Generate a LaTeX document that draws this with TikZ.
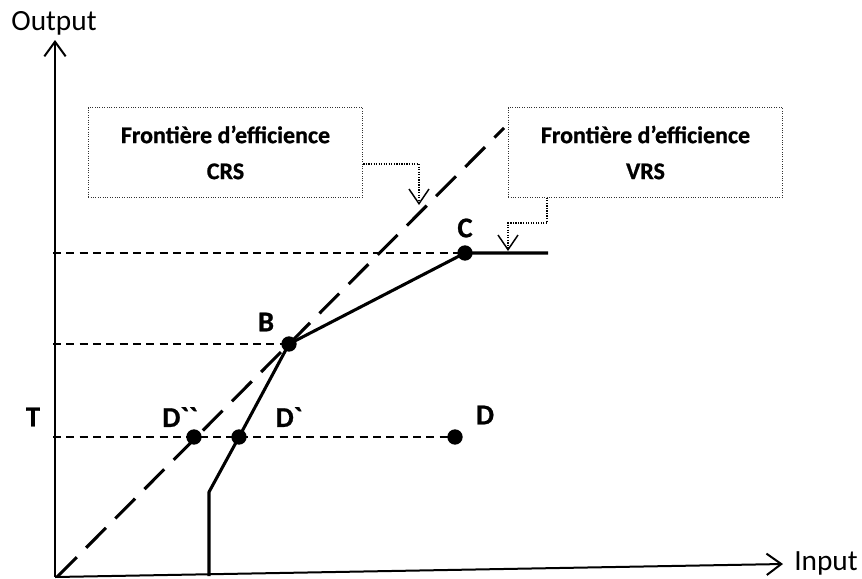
\documentclass[tikz,border=0pt]{standalone}
\usepackage{fontspec}
\setmainfont{Carlito}[BoldFeatures={FakeBold=0.8}]
\usetikzlibrary{arrows.meta}
\begin{document}
\begin{tikzpicture}[x=0.75pt,y=-0.75pt,
  axis/.style={line width=1.5pt,-{Straight Barb[length=11pt,width=16pt,line width=1.5pt]}},
  axislbl/.style={font=\fontsize{22}{26}\selectfont,inner sep=0pt},
  frontier/.style={line width=2.3pt,line join=round},
  crsline/.style={line width=2.3pt,dash pattern=on 21pt off 10pt},
  guide/.style={line width=1.1pt,dash pattern=on 6pt off 4pt},
  dot/.style={circle,fill=black,inner sep=0pt,minimum size=11.5pt},
  lbl/.style={font=\bfseries\fontsize{21.5}{25}\selectfont,inner sep=0pt},
  box/.style={draw=black!80,densely dotted,line width=0.8pt,minimum width=206pt,minimum height=67pt,inner sep=0pt,align=center,font=\bfseries\fontsize{18}{27}\selectfont},
  conn/.style={densely dotted,line width=0.9pt,-{Straight Barb[length=11pt,width=15pt,line width=1.1pt]}}
]
\useasboundingbox (0,0) rectangle (862,578);
% axes
\coordinate (O) at (55,577);
\coordinate (ytop) at (55,40);
\coordinate (xend) at (783,564);
\draw[axis] (O) -- (ytop);
\draw[axis] (O) -- (xend);
\node[axislbl,anchor=base] (outlbl) at (54,30) {Output};
\node[axislbl,anchor=base] (inlbl) at (826,570) {Input};
% points
\coordinate (C) at (465,253);
\coordinate (B) at (289,344);
\coordinate (Dpp) at (194,437);
\coordinate (Dp) at (239,437);
\coordinate (D) at (455,437);
% guides
\draw[guide] ([xshift=-1.5pt]O |- C) -- (C);
\draw[guide] ([xshift=-1.5pt]O |- B) -- (B);
\draw[guide] ([xshift=-1.5pt]O |- D) -- (D);
% CRS frontier
\coordinate (O2) at (57,577);
\coordinate (crsEnd) at (504,128);
\draw[crsline] (O2) -- (crsEnd);
% VRS frontier
\coordinate (vbot) at (209,576);
\coordinate (vkink) at (209,492);
\coordinate (cend) at (548,253);
\draw[frontier] (vbot) -- (vkink) -- (Dp) -- (B) -- (C) -- (cend);
% dots
\node[dot] (nC) at (C) {};
\node[dot] (nB) at (B) {};
\node[dot] (nDpp) at (Dpp) {};
\node[dot] (nDp) at (Dp) {};
\node[dot] (nD) at (D) {};
% labels
\node[lbl] (lC) at (465,228) {C};
\node[lbl] (lB) at (266,322) {B};
\node[lbl] (lT) at (33,417) {T};
\node[lbl] (lDpp) at (180,417) {D\textasciigrave\textasciigrave};
\node[lbl] (lDp) at (289,417) {D\textasciigrave};
\node[lbl] (lD) at (485,415) {D};
% boxes
\node[box] (crs) at (225.5,152.5) {Frontière d’efficience\\CRS};
\node[box] (vrs) at (645.5,152.5) {Frontière d’efficience\\VRS};
% connectors
\coordinate (crsA) at (419,164);
\coordinate (crsTip) at (419,205);
\draw[conn] (crs.east |- crsA) -- (crsA) -- (crsTip);
\coordinate (vrsA) at (547,223);
\coordinate (vrsB) at (508,223);
\coordinate (vrsTip) at (508,251);
\draw[conn] (vrs.south -| vrsA) -- (vrsA) -- (vrsB) -- (vrsTip);
\end{tikzpicture}
\end{document}
